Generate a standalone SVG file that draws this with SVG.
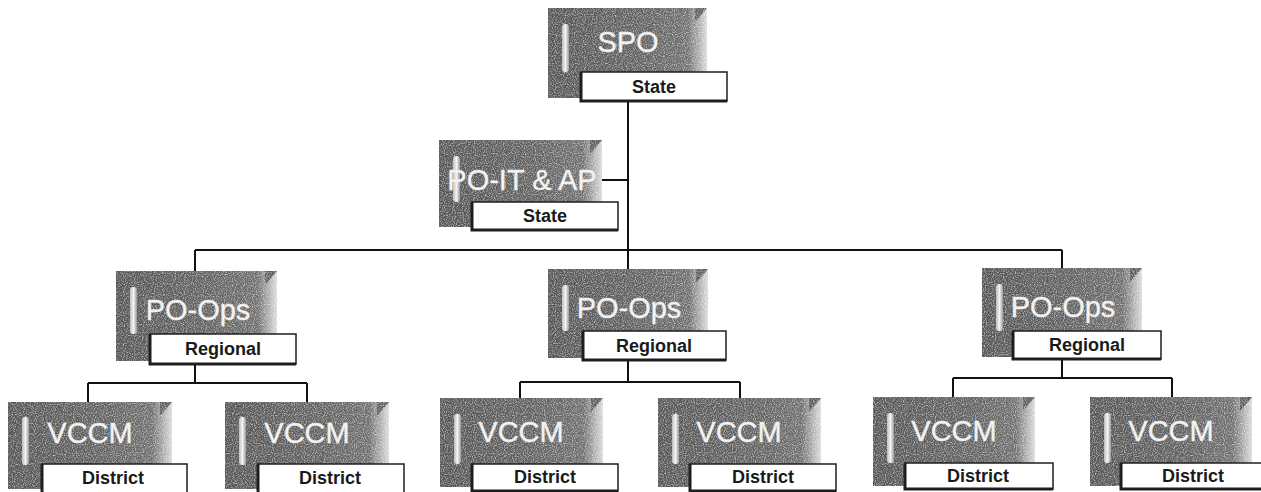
<svg xmlns="http://www.w3.org/2000/svg" width="1261" height="492" viewBox="0 0 1261 492">
  <style>
    .box { fill: url(#boxGrad); }
    .tri { fill: #5f5f5f; }
    .hl { fill: url(#hlGrad); }
    .title { font-family: "Liberation Sans", Arial, sans-serif; font-size: 29px; fill: #f4f4f4; stroke: #e8e8e8; stroke-width: 0.4; text-anchor: middle; }
    .lab { fill: #ffffff; stroke: #1e1e1e; stroke-width: 1.5; }
    .labsh { fill: none; stroke: #1e1e1e; stroke-width: 3; }
    .labtxt { font-family: "Liberation Sans", Arial, sans-serif; font-size: 18px; font-weight: bold; fill: #1a1a1a; text-anchor: middle; }
    .conn { fill: none; stroke: #111111; stroke-width: 2; }
  </style>
  <defs>
    <linearGradient id="boxGrad" x1="0" y1="0" x2="1" y2="0">
      <stop offset="0" stop-color="#575757"/>
      <stop offset="0.6" stop-color="#636363"/>
      <stop offset="0.88" stop-color="#707070"/>
      <stop offset="0.94" stop-color="#a6a6a6"/>
      <stop offset="1" stop-color="#dcdcdc"/>
    </linearGradient>
    <linearGradient id="hlGrad" x1="0" y1="0" x2="1" y2="0">
      <stop offset="0" stop-color="#bdbdbd"/>
      <stop offset="0.5" stop-color="#f4f4f4"/>
      <stop offset="1" stop-color="#9a9a9a"/>
    </linearGradient>
    <filter id="grain" x="0" y="0" width="1" height="1" color-interpolation-filters="sRGB">
      <feTurbulence type="fractalNoise" baseFrequency="0.9" numOctaves="1" seed="3" result="noise"/>
      <feColorMatrix in="noise" type="matrix" values="0 0 0 0 1  0 0 0 0 1  0 0 0 0 1  1.8 0 0 0 -0.8" result="white"/>
      <feComposite in="white" in2="SourceAlpha" operator="in" result="speck"/>
      <feMerge><feMergeNode in="SourceGraphic"/><feMergeNode in="speck"/></feMerge>
    </filter>
  </defs>

  <g id="connectors">
    <path class="conn" d="M628 101 V250 M602 180 H628 M195 250 H1062 M195 250 V271 M628 250 V269 M1062 250 V268"/>
    <path class="conn" d="M195 364 V383 M88 383 H307 M88 383 V402 M307 383 V402"/>
    <path class="conn" d="M628 360 V382 M520 382 H740 M520 382 V398 M740 382 V398"/>
    <path class="conn" d="M1062 359 V378 M953 378 H1172 M953 378 V397 M1172 378 V397"/>
  </g>

  <g id="node-spo">
    <g filter="url(#grain)">
      <rect class="box" x="548" y="8" width="159" height="90"/>
      <polygon class="tri" points="695,8 707,8 695,22"/>
    </g>
    <rect class="hl" x="562" y="24" width="7" height="48" rx="3"/>
    <text class="title" x="628" y="52">SPO</text>
    <rect class="lab" x="581" y="72" width="146" height="29"/>
    <path class="labsh" d="M581 72 V101 H727"/>
    <text class="labtxt" x="654" y="93">State</text>
  </g>

  <g id="node-poit">
    <g filter="url(#grain)">
      <rect class="box" x="439" y="140" width="163" height="87"/>
      <polygon class="tri" points="590,140 602,140 590,154"/>
    </g>
    <rect class="hl" x="453" y="156" width="7" height="46" rx="3"/>
    <text class="title" x="522" y="190">PO-IT &amp; AP</text>
    <rect class="lab" x="472" y="202" width="146" height="28"/>
    <path class="labsh" d="M472 202 V230 H618"/>
    <text class="labtxt" x="545" y="222">State</text>
  </g>

  <g id="node-poops-1">
    <g filter="url(#grain)">
      <rect class="box" x="116" y="271" width="161" height="90"/>
      <polygon class="tri" points="265,271 277,271 265,285"/>
    </g>
    <rect class="hl" x="130" y="287" width="7" height="47" rx="3"/>
    <text class="title" x="198" y="320">PO-Ops</text>
    <rect class="lab" x="150" y="334" width="146" height="30"/>
    <path class="labsh" d="M150 334 V364 H296"/>
    <text class="labtxt" x="223" y="355">Regional</text>
  </g>

  <g id="node-poops-2">
    <g filter="url(#grain)">
      <rect class="box" x="548" y="269" width="160" height="89"/>
      <polygon class="tri" points="696,269 708,269 696,283"/>
    </g>
    <rect class="hl" x="562" y="285" width="7" height="46" rx="3"/>
    <text class="title" x="629" y="318">PO-Ops</text>
    <rect class="lab" x="583" y="331" width="143" height="29"/>
    <path class="labsh" d="M583 331 V360 H726"/>
    <text class="labtxt" x="654" y="352">Regional</text>
  </g>

  <g id="node-poops-3">
    <g filter="url(#grain)">
      <rect class="box" x="982" y="268" width="160" height="89"/>
      <polygon class="tri" points="1130,268 1142,268 1130,282"/>
    </g>
    <rect class="hl" x="996" y="284" width="7" height="47" rx="3"/>
    <text class="title" x="1063" y="317">PO-Ops</text>
    <rect class="lab" x="1013" y="331" width="148" height="28"/>
    <path class="labsh" d="M1013 331 V359 H1161"/>
    <text class="labtxt" x="1087" y="351">Regional</text>
  </g>

  <g id="node-vccm-1">
    <g filter="url(#grain)">
      <rect class="box" x="8" y="402" width="164" height="87"/>
      <polygon class="tri" points="160,402 172,402 160,416"/>
    </g>
    <rect class="hl" x="22" y="417" width="7" height="48" rx="3"/>
    <text class="title" x="90" y="443">VCCM</text>
    <rect class="lab" x="42" y="464" width="145" height="30"/>
    <path class="labsh" d="M42 464 V494"/>
    <text class="labtxt" x="113" y="484">District</text>
  </g>

  <g id="node-vccm-2">
    <g filter="url(#grain)">
      <rect class="box" x="225" y="402" width="164" height="87"/>
      <polygon class="tri" points="377,402 389,402 377,416"/>
    </g>
    <rect class="hl" x="239" y="417" width="7" height="48" rx="3"/>
    <text class="title" x="307" y="443">VCCM</text>
    <rect class="lab" x="258" y="464" width="146" height="30"/>
    <path class="labsh" d="M258 464 V494"/>
    <text class="labtxt" x="330" y="484">District</text>
  </g>

  <g id="node-vccm-3">
    <g filter="url(#grain)">
      <rect class="box" x="440" y="398" width="163" height="89"/>
      <polygon class="tri" points="591,398 603,398 591,412"/>
    </g>
    <rect class="hl" x="454" y="414" width="7" height="50" rx="3"/>
    <text class="title" x="521" y="442">VCCM</text>
    <rect class="lab" x="472" y="464" width="146" height="27"/>
    <path class="labsh" d="M472 464 V491 H618"/>
    <text class="labtxt" x="545" y="483">District</text>
  </g>

  <g id="node-vccm-4">
    <g filter="url(#grain)">
      <rect class="box" x="658" y="398" width="163" height="89"/>
      <polygon class="tri" points="809,398 821,398 809,412"/>
    </g>
    <rect class="hl" x="672" y="414" width="7" height="50" rx="3"/>
    <text class="title" x="739" y="442">VCCM</text>
    <rect class="lab" x="690" y="464" width="146" height="27"/>
    <path class="labsh" d="M690 464 V491 H836"/>
    <text class="labtxt" x="763" y="483">District</text>
  </g>

  <g id="node-vccm-5">
    <g filter="url(#grain)">
      <rect class="box" x="873" y="397" width="162" height="89"/>
      <polygon class="tri" points="1023,397 1035,397 1023,411"/>
    </g>
    <rect class="hl" x="887" y="413" width="7" height="50" rx="3"/>
    <text class="title" x="954" y="441">VCCM</text>
    <rect class="lab" x="905" y="463" width="148" height="26"/>
    <path class="labsh" d="M905 463 V489 H1053"/>
    <text class="labtxt" x="978" y="482">District</text>
  </g>

  <g id="node-vccm-6">
    <g filter="url(#grain)">
      <rect class="box" x="1090" y="397" width="162" height="89"/>
      <polygon class="tri" points="1240,397 1252,397 1240,411"/>
    </g>
    <rect class="hl" x="1104" y="413" width="7" height="50" rx="3"/>
    <text class="title" x="1171" y="441">VCCM</text>
    <rect class="lab" x="1121" y="463" width="143" height="26"/>
    <path class="labsh" d="M1121 463 V489 H1264"/>
    <text class="labtxt" x="1193" y="482">District</text>
  </g>
</svg>
